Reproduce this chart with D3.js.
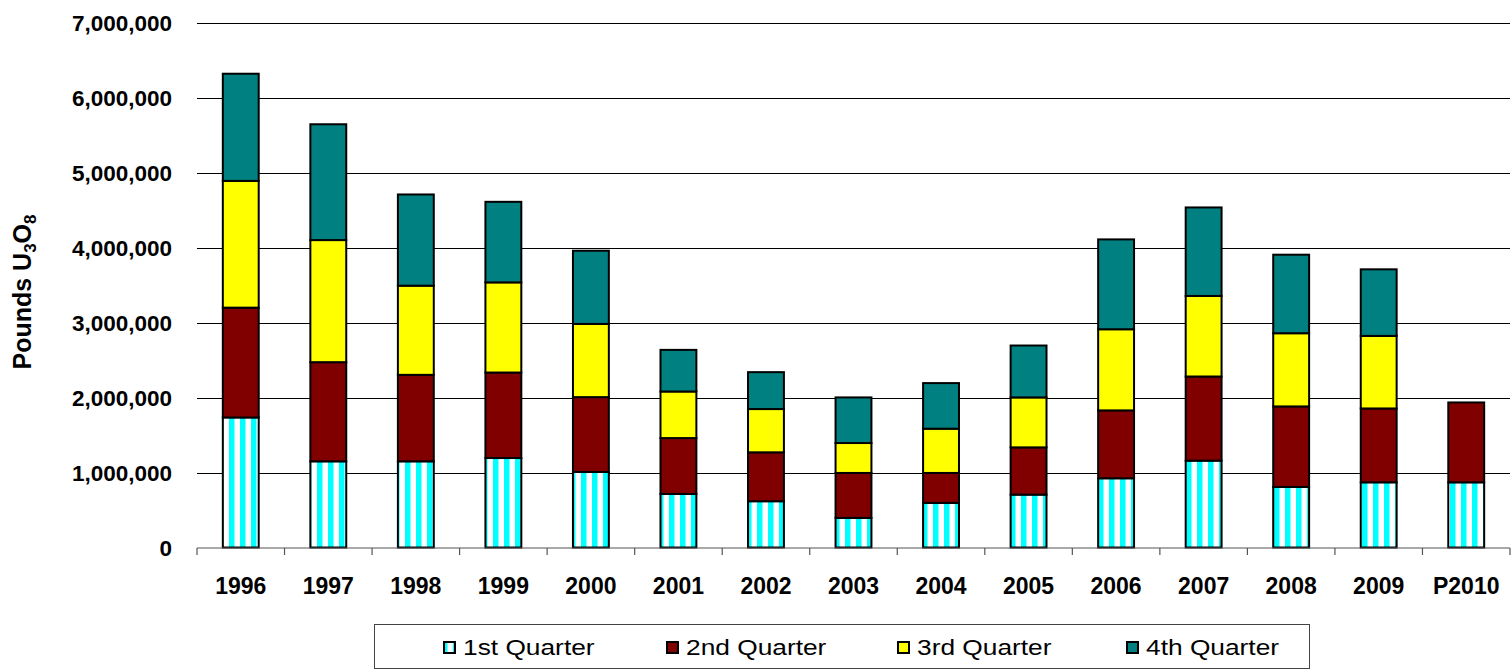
<!DOCTYPE html>
<html>
<head>
<meta charset="utf-8">
<script src="https://cdn.jsdelivr.net/npm/d3@7"></script>
<style>
  html, body { margin: 0; padding: 0; background: #fff; }
  svg { display: block; font-family: "Liberation Sans", Arial, sans-serif; }
</style>
</head>
<body>
<svg id="chart" width="1511" height="671"></svg>
<script>
const categories = ["1996","1997","1998","1999","2000","2001","2002","2003","2004","2005","2006","2007","2008","2009","P2010"];
const q1 = [1734000,1149000,1149000,1193000,1007000,714000,617000,395000,595000,705000,923000,1158000,807000,869000,869000];
const q2 = [1464000,1322000,1153000,1140000,998000,745000,652000,599000,399000,630000,905000,1122000,1074000,985000,1065000];
const q3 = [1690000,1628000,1189000,1202000,976000,621000,577000,399000,590000,666000,1082000,1074000,976000,967000,0];
const q4 = [1429000,1544000,1216000,1074000,976000,555000,492000,608000,608000,692000,1198000,1180000,1047000,888000,0];
const seriesNames = ["1st Quarter","2nd Quarter","3rd Quarter","4th Quarter"];
const yTicks = [0,1000000,2000000,3000000,4000000,5000000,6000000,7000000];

const colors = ["url(#stripes)", "#800000", "#FFFF00", "#008080"];
const keys = ["q1","q2","q3","q4"];
const rows = categories.map((c,i) => ({cat:c, q1:q1[i], q2:q2[i], q3:q3[i], q4:q4[i]}));

const svg = d3.select("#chart");
const defs = svg.append("defs");
const pat = defs.append("pattern").attr("id","stripes")
  .attr("patternUnits","userSpaceOnUse").attr("x",9).attr("y",0)
  .attr("width",11).attr("height",11);
pat.append("rect").attr("x",0).attr("y",0).attr("width",11).attr("height",11).attr("fill","#fff");
pat.append("rect").attr("x",0).attr("y",0).attr("width",5.5).attr("height",11).attr("fill","#00FFFF");

const x = d3.scaleBand().domain(categories).range([197,1510]).padding(0);
const y = d3.scaleLinear().domain([0,7000000]).range([547.5,22.5]);
const barW = x.bandwidth()*0.41;

// gridlines
svg.append("g").selectAll("line").data(yTicks.filter(d=>d>0)).join("line")
  .attr("x1",197).attr("x2",1510)
  .attr("y1",d=>Math.round(y(d))+0.5).attr("y2",d=>Math.round(y(d))+0.5)
  .attr("stroke","#000").attr("stroke-width",1);

// y labels
const fmt = d3.format(",");
svg.append("g").selectAll("text").data(yTicks).join("text")
  .attr("x",172).attr("y",d=>y(d)+8)
  .attr("text-anchor","end").attr("font-weight","bold").attr("font-size",22.5)
  .text(d=>fmt(d));

// stacked bars
const stack = d3.stack().keys(keys)(rows);
stack.forEach((layer,li) => {
  svg.append("g").selectAll("rect").data(layer.filter(d=>d[1]-d[0]>0)).join("rect")
    .attr("x",d=>x(d.data.cat)+(x.bandwidth()-barW)/2)
    .attr("width",barW)
    .attr("y",d=>y(d[1]))
    .attr("height",d=>y(d[0])-y(d[1]))
    .attr("fill",colors[li])
    .attr("stroke","#000").attr("stroke-width",2);
});

// baseline & x ticks
svg.append("line").attr("x1",197).attr("x2",1510).attr("y1",548).attr("y2",548)
  .attr("stroke","#555").attr("stroke-width",1.2);
const bounds = categories.map(c=>x(c)).concat([1510]);
svg.append("g").selectAll("line").data(bounds).join("line")
  .attr("x1",d=>d).attr("x2",d=>d).attr("y1",548).attr("y2",555)
  .attr("stroke","#555").attr("stroke-width",1.2);

// x labels
svg.append("g").selectAll("text").data(categories).join("text")
  .attr("x",d=>x(d)+x.bandwidth()/2).attr("y",594)
  .attr("text-anchor","middle").attr("font-weight","bold").attr("font-size",23)
  .text(d=>d);

// y title
const t = svg.append("text").attr("transform","translate(31,292) rotate(-90)")
  .attr("text-anchor","middle").attr("font-weight","bold").attr("font-size",25);
t.append("tspan").text("Pounds U");
t.append("tspan").attr("font-size",17).attr("dy",5).text("3");
t.append("tspan").attr("dy",-5).text("O");
t.append("tspan").attr("font-size",17).attr("dy",5).text("8");

// legend
svg.append("rect").attr("x",374.5).attr("y",624.5).attr("width",935).attr("height",44)
  .attr("fill","#fff").attr("stroke","#444").attr("stroke-width",1);
const legendX = [444, 667, 898, 1127];
const lg = svg.append("g").selectAll("g").data(seriesNames).join("g")
  .attr("transform",(d,i)=>`translate(${legendX[i]},0)`);
lg.append("rect").attr("x",0).attr("y",642).attr("width",11).attr("height",11)
  .attr("fill",(d,i)=>colors[i]).attr("stroke","#000").attr("stroke-width",2);
lg.append("text").attr("transform","translate(19,654.5) scale(1.17,1)")
  .attr("font-size",22.5).text(d=>d);
</script>
</body>
</html>
